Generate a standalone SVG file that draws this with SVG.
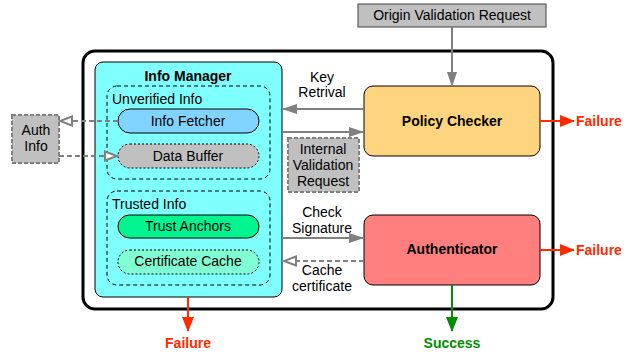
<svg xmlns="http://www.w3.org/2000/svg" width="636" height="356" viewBox="0 0 636 356">
<style>
text{font-family:"Liberation Sans",Arial,sans-serif;font-size:14px;fill:#000;text-anchor:middle}
.b{font-weight:bold}
.red{fill:#ff2a00;font-weight:bold}
.grn{fill:#008f00;font-weight:bold}
.l{text-anchor:start}
.gline{stroke:#808080;stroke-width:2;fill:none}
.gdash{stroke:#808080;stroke-width:2;fill:none;stroke-dasharray:5,3}
.gbox{fill:#c0c0c0;stroke:#808080;stroke-width:2;stroke-dasharray:4,2}
</style>
<defs>
<marker id="ag" markerWidth="15" markerHeight="12" refX="14" refY="6" orient="auto" markerUnits="userSpaceOnUse"><path d="M0,1 L15,6 L0,11 Z" fill="#808080"/></marker>
<marker id="ao" markerWidth="15" markerHeight="12" refX="13" refY="6" orient="auto" markerUnits="userSpaceOnUse"><path d="M1,1.5 L13,6 L1,10.5 Z" fill="#fff" stroke="#808080" stroke-width="2"/></marker>
<marker id="ar" markerWidth="15" markerHeight="12" refX="14" refY="6" orient="auto" markerUnits="userSpaceOnUse"><path d="M0,0 L15,6 L0,12 Z" fill="#ff2a00"/></marker>
<marker id="agr" markerWidth="15" markerHeight="12" refX="14" refY="6" orient="auto" markerUnits="userSpaceOnUse"><path d="M0,0 L15,6 L0,12 Z" fill="#008f00"/></marker>
</defs>

<g id="system">
<rect x="83" y="51" width="470" height="258" rx="12" fill="#fff" stroke="#000" stroke-width="3"/>
</g>

<g id="info-manager">
<rect x="95" y="62" width="187" height="235" rx="8" fill="#80ffff" stroke="#000" stroke-width="1"/>
<text x="188" y="81" class="b">Info Manager</text>
</g>

<g id="unverified-info">
<rect x="107" y="86" width="163" height="93" rx="10" fill="none" stroke="#000" stroke-width="1" stroke-dasharray="4,3"/>
<text x="112" y="104" class="l">Unverified Info</text>
</g>

<g id="info-fetcher">
<rect x="118" y="109" width="141" height="24" rx="12" fill="#80d4ff" stroke="#000" stroke-width="1"/>
<text x="188" y="126">Info Fetcher</text>
</g>

<g id="data-buffer">
<rect x="118" y="144" width="141" height="24" rx="12" fill="#c0c0c0" stroke="#000" stroke-width="1" stroke-dasharray="2,2"/>
<text x="188" y="161">Data Buffer</text>
</g>

<g id="trusted-info">
<rect x="107" y="191" width="163" height="94" rx="10" fill="none" stroke="#000" stroke-width="1" stroke-dasharray="4,3"/>
<text x="112" y="209" class="l">Trusted Info</text>
</g>

<g id="trust-anchors">
<rect x="118" y="215" width="141" height="23" rx="11.5" fill="#00f590" stroke="#000" stroke-width="1"/>
<text x="188" y="231">Trust Anchors</text>
</g>

<g id="certificate-cache">
<rect x="118" y="250" width="141" height="24" rx="12" fill="#80ffd4" stroke="#000" stroke-width="1" stroke-dasharray="2,2"/>
<text x="188" y="266">Certificate Cache</text>
</g>

<g id="auth-info">
<rect x="12" y="115" width="47" height="48" class="gbox"/>
<text x="36" y="135">Auth</text>
<text x="36" y="151">Info</text>
</g>

<g id="origin-validation-request">
<rect x="358" y="4" width="188" height="23" fill="#c0c0c0" stroke="#404040" stroke-width="1"/>
<text x="452" y="20">Origin Validation Request</text>
</g>

<g id="policy-checker">
<rect x="364" y="86" width="176" height="70" rx="9" fill="#ffd47f" stroke="#000" stroke-width="1"/>
<text x="452" y="126" class="b">Policy Checker</text>
</g>

<g id="authenticator">
<rect x="364" y="215" width="176" height="70" rx="9" fill="#ff7f7f" stroke="#000" stroke-width="1"/>
<text x="452" y="254" class="b">Authenticator</text>
</g>

<g id="internal-validation-request">
<rect x="288" y="138" width="71" height="54" class="gbox"/>
<text x="323" y="154">Internal</text>
<text x="323" y="170">Validation</text>
<text x="323" y="186">Request</text>
</g>

<g id="connectors">
<line x1="118" y1="121" x2="60" y2="121" class="gdash" marker-end="url(#ao)"/>
<line x1="59" y1="156" x2="117" y2="156" class="gdash" marker-end="url(#ao)"/>
<line x1="452" y1="27" x2="452" y2="86" class="gline" marker-end="url(#ag)"/>
<line x1="364" y1="109" x2="283" y2="109" class="gline" marker-end="url(#ag)"/>
<line x1="282" y1="132" x2="363" y2="132" class="gline" marker-end="url(#ag)"/>
<line x1="282" y1="238" x2="363" y2="238" class="gline" marker-end="url(#ag)"/>
<line x1="364" y1="261" x2="284" y2="261" class="gdash" marker-end="url(#ao)"/>
<line x1="540" y1="121" x2="574" y2="121" stroke="#ff2a00" stroke-width="2" marker-end="url(#ar)"/>
<line x1="540" y1="250" x2="574" y2="250" stroke="#ff2a00" stroke-width="2" marker-end="url(#ar)"/>
<line x1="188" y1="297" x2="188" y2="331" stroke="#ff2a00" stroke-width="2" marker-end="url(#ar)"/>
<line x1="452" y1="285" x2="452" y2="331" stroke="#008f00" stroke-width="2" marker-end="url(#agr)"/>
<text x="322" y="82">Key</text>
<text x="322" y="97">Retrival</text>
<text x="322" y="217">Check</text>
<text x="322" y="233">Signature</text>
<text x="322" y="275">Cache</text>
<text x="322" y="291">certificate</text>
<text x="576" y="126" class="red l">Failure</text>
<text x="576" y="255" class="red l">Failure</text>
<text x="188" y="348" class="red">Failure</text>
<text x="452" y="348" class="grn">Success</text>
</g>
</svg>
